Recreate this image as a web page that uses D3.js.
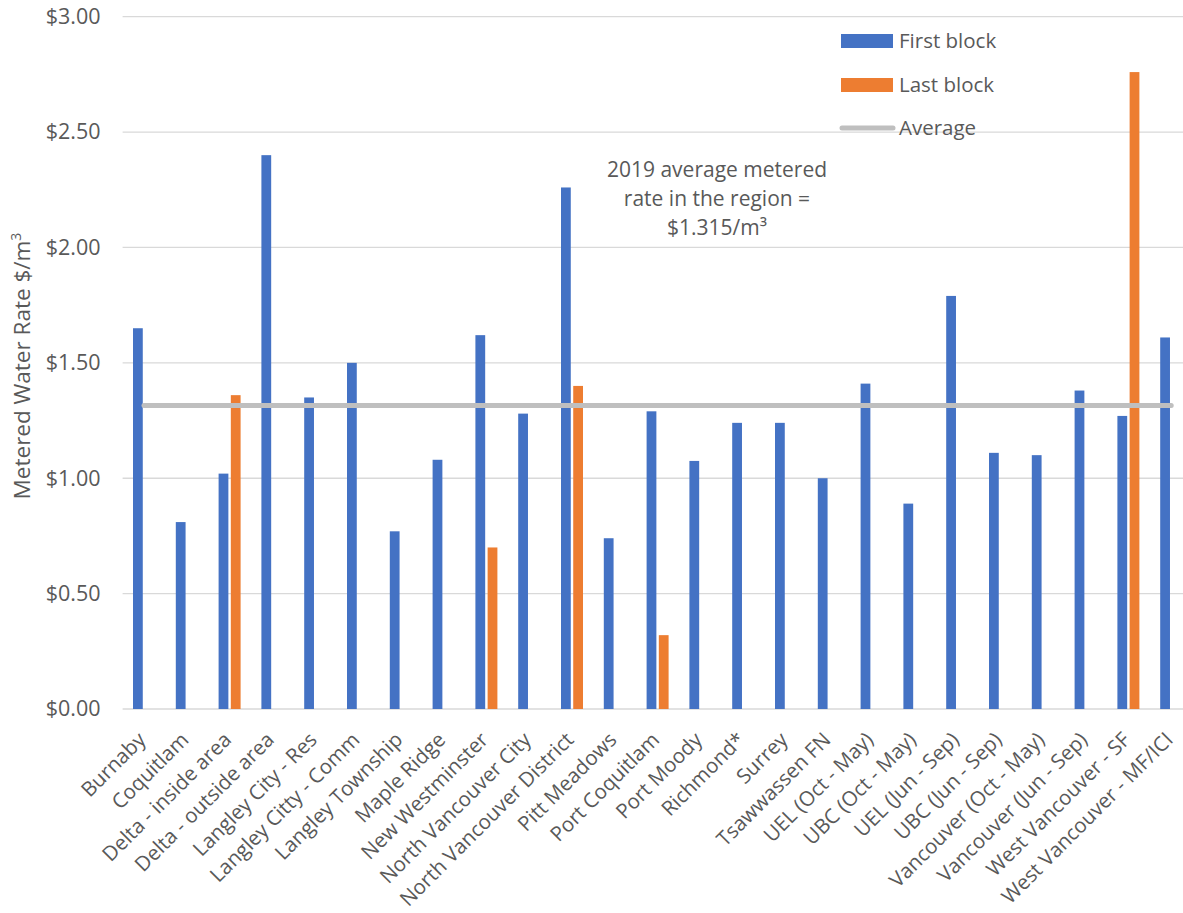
<!DOCTYPE html>
<html>
<head>
<meta charset="utf-8">
<script src="https://cdn.jsdelivr.net/npm/d3@7"></script>
<style>
  html, body { margin: 0; padding: 0; background: #fff; }
  svg { display: block; font-family: "Open Sans", "Noto Sans", sans-serif; }
</style>
</head>
<body>
<svg id="chart" width="1183" height="913"></svg>
<script>
// Metered water rates by municipality ($ per cubic metre)
const categories = [
  "Burnaby", "Coquitlam", "Delta - inside area", "Delta - outside area",
  "Langley City - Res", "Langley Citty - Comm", "Langley Township", "Maple Ridge",
  "New Westminster", "North Vancouver City", "North Vancouver District", "Pitt Meadows",
  "Port Coquitlam", "Port Moody", "Richmond*", "Surrey", "Tsawwassen FN",
  "UEL (Oct - May)", "UBC (Oct - May)", "UEL (Jun - Sep)", "UBC (Jun - Sep)",
  "Vancouver (Oct - May)", "Vancouver (Jun - Sep)", "West Vancouver - SF",
  "West Vancouver - MF/ICI"
];
const firstBlock = [
  1.65, 0.81, 1.02, 2.40, 1.35, 1.50, 0.77, 1.08, 1.62, 1.28, 2.26, 0.74,
  1.29, 1.075, 1.24, 1.24, 1.00, 1.41, 0.89, 1.79, 1.11, 1.10, 1.38, 1.27, 1.61
];
const lastBlock = [
  null, null, 1.36, null, null, null, null, null, 0.70, null, 1.40, null,
  0.32, null, null, null, null, null, null, null, null, null, null, 2.76, null
];
const averageRate = 1.315;
const yTicks = [0, 0.5, 1.0, 1.5, 2.0, 2.5, 3.0];
const seriesNames = ["First block", "Last block"];
const annotationLines = ["2019 average metered", "rate in the region =", "$1.315/m\u00B3"];

const colors = { "First block": "#4472C4", "Last block": "#ED7D31" };
const textColor = "#595959";
const avgColor = "#BFBFBF";
const gridColor = "#D9D9D9";

const svg = d3.select("#chart");

const plot = { left: 122.6, right: 1192.6, top: 16.7, bottom: 709 };

const x = d3.scaleBand()
  .domain(categories)
  .range([plot.left, plot.right])
  .paddingInner(0.486)
  .paddingOuter(0.243);

const x1 = d3.scaleBand()
  .domain(seriesNames)
  .range([0, x.bandwidth()])
  .paddingInner(0.2);

const y = d3.scaleLinear()
  .domain([0, 3])
  .range([plot.bottom, plot.top]);

// Horizontal gridlines
svg.append("g")
  .selectAll("line")
  .data(yTicks)
  .join("line")
  .attr("x1", plot.left)
  .attr("x2", plot.right)
  .attr("y1", d => y(d))
  .attr("y2", d => y(d))
  .attr("stroke", gridColor)
  .attr("stroke-width", 1.3);

// Y axis labels
const yAxis = svg.append("g")
  .attr("transform", `translate(${plot.left - 22},0)`)
  .call(d3.axisLeft(y).tickValues(yTicks).tickSize(0).tickPadding(0)
    .tickFormat(d => "$" + d3.format(".2f")(d)));
yAxis.select(".domain").remove();
yAxis.selectAll("text")
  .attr("fill", textColor)
  .attr("font-size", 21.5)
  .attr("font-family", "'Open Sans', sans-serif");

// X axis category labels, rotated
const xAxis = svg.append("g")
  .attr("transform", `translate(0,${plot.bottom})`)
  .call(d3.axisBottom(x).tickSize(0).tickPadding(0));
xAxis.select(".domain").remove();
xAxis.selectAll(".tick text")
  .attr("fill", textColor)
  .attr("font-size", 20.5)
  .attr("font-family", "'Open Sans', sans-serif")
  .attr("text-anchor", "end")
  .attr("dy", null)
  .attr("y", 0)
  .attr("transform", "translate(3,32) rotate(-45)");

// Bars
const barData = [];
categories.forEach((c, i) => {
  barData.push({ cat: c, series: "First block", value: firstBlock[i] });
  if (lastBlock[i] != null) barData.push({ cat: c, series: "Last block", value: lastBlock[i] });
});

svg.append("g")
  .selectAll("rect")
  .data(barData)
  .join("rect")
  .attr("x", d => x(d.cat) + x1(d.series))
  .attr("width", x1.bandwidth())
  .attr("y", d => y(d.value))
  .attr("height", d => y(0) - y(d.value))
  .attr("fill", d => colors[d.series]);

// Average line across categories
const avgData = categories.map(c => ({ cat: c, value: averageRate }));
svg.append("path")
  .datum(avgData)
  .attr("fill", "none")
  .attr("stroke", avgColor)
  .attr("stroke-width", 5)
  .attr("stroke-linecap", "round")
  .attr("d", d3.line()
    .x(d => x(d.cat) + x.bandwidth() / 2)
    .y(d => y(d.value)));

// Annotation
svg.append("text")
  .attr("x", 717)
  .attr("y", 177)
  .attr("text-anchor", "middle")
  .attr("fill", textColor)
  .attr("font-size", 21)
  .selectAll("tspan")
  .data(annotationLines)
  .join("tspan")
  .attr("x", 717)
  .attr("dy", (d, i) => i === 0 ? 0 : 29)
  .text(d => d);

// Y axis title
svg.append("text")
  .attr("transform", "translate(30,366) rotate(-90)")
  .attr("text-anchor", "middle")
  .attr("fill", textColor)
  .attr("font-size", 22.5)
  .html("Metered Water Rate $/m<tspan dy='-9' font-size='14'>3</tspan>");

// Legend
const legend = svg.append("g");
const legendItems = [
  { name: "First block", type: "rect", y: 41 },
  { name: "Last block", type: "rect", y: 85 },
  { name: "Average", type: "line", y: 128 }
];
legendItems.forEach(item => {
  if (item.type === "rect") {
    legend.append("rect")
      .attr("x", 841).attr("y", item.y - 7)
      .attr("width", 52).attr("height", 14)
      .attr("fill", colors[item.name]);
  } else {
    legend.append("line")
      .attr("x1", 842).attr("x2", 893)
      .attr("y1", item.y).attr("y2", item.y)
      .attr("stroke", avgColor).attr("stroke-width", 5)
      .attr("stroke-linecap", "round");
  }
  legend.append("text")
    .attr("x", 899)
    .attr("y", item.y + 7)
    .attr("fill", textColor)
    .attr("font-size", 20.5)
    .text(item.name);
});
</script>
</body>
</html>
